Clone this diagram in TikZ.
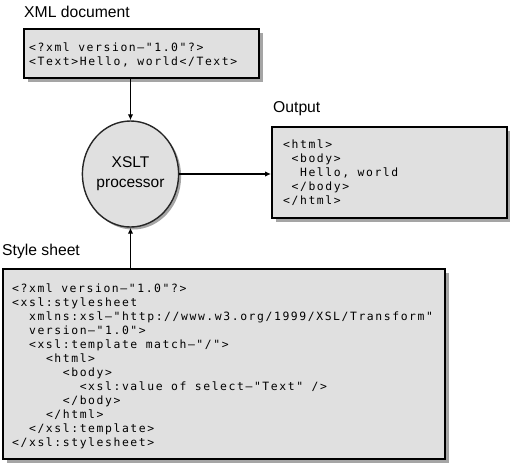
\documentclass[tikz,border=0pt]{standalone}
\usepackage{fontspec}
\setmainfont{Liberation Sans}
\newfontfamily\codefont{DejaVu Sans Mono}[LetterSpace=13.9]
\usetikzlibrary{arrows.meta,shapes.geometric,shadows}
\definecolor{boxfill}{RGB}{224,224,224}
\definecolor{shadowgray}{RGB}{165,165,165}
\newcommand\ind[1]{\hspace*{\dimexpr 8.45pt*#1\relax}}
\newcommand\codesetup{\codefont\fontsize{11.4pt}{14pt}\selectfont\fontdimen2\font=8.45pt\fontdimen3\font=0pt\fontdimen4\font=0pt}
\tikzset{
  box/.style={draw=black, line width=2pt, fill=boxfill, rectangle, inner sep=0pt,
    drop shadow={shadow xshift=3.5pt, shadow yshift=-3.5pt, fill=shadowgray, opacity=1}},
  proc/.style={draw=black!85, line width=1.4pt, fill=boxfill, ellipse, inner sep=0pt,
    align=center, font=\fontsize{15.5pt}{20pt}\selectfont,
    drop shadow={shadow xshift=2.5pt, shadow yshift=-2.5pt, fill=shadowgray, opacity=1}},
  lab/.style={font=\fontsize{15.7pt}{18pt}\selectfont, inner sep=0pt, anchor=base west},
  code/.style={font=\codesetup, align=left, inner sep=0pt, anchor=north west},
  arr/.style={line width=1.9pt, -{Latex[length=6pt,width=5.5pt]}}
}
\begin{document}
\begin{tikzpicture}[x=1pt,y=-1pt]
\useasboundingbox (0,0) rectangle (510,464);
% labels
\node[lab] (xmllab) at (24,17) {XML document};
\node[lab] (outlab) at (273,112) {Output};
\node[lab] (stylab) at (2,255) {Style sheet};
% boxes
\node[box, minimum width=235pt, minimum height=49pt] (xml) at (141.5,53.5) {};
\node[box, minimum width=235pt, minimum height=91pt] (out) at (389.5,172.5) {};
\node[box, minimum width=442pt, minimum height=190pt] (sty) at (224,364) {};
\node[proc, minimum width=96pt, minimum height=106pt] (xslt) at (130.5,174) {XSLT\\processor};
% code
\node[code] (xmlcode) at (29,42.8) {<?xml version–"1.0"?>\\<Text>Hello, world</Text>};
\node[code] (outcode) at (283,139.3) {<html>\\\ind{1}<body>\\\ind{2}Hello, world\\\ind{1}</body>\\</html>};
\node[code] (stycode) at (12,283.3) {<?xml version–"1.0"?>\\
<xsl:stylesheet\\
\ind{2}xmlns:xsl–"http://www.w3.org/1999/XSL/Transform"\\
\ind{2}version–"1.0">\\
\ind{2}<xsl:template match–"/">\\
\ind{4}<html>\\
\ind{6}<body>\\
\ind{8}<xsl:value of select–"Text" />\\
\ind{6}</body>\\
\ind{4}</html>\\
\ind{2}</xsl:template>\\
</xsl:stylesheet>};
% connectors
\draw[arr] (xslt.north |- xml.south) -- (xslt.north);
\draw[arr] (xslt.south |- sty.north) -- (xslt.south);
\draw[arr] (xslt.east) -- (xslt.east -| out.west);
\end{tikzpicture}
\end{document}
